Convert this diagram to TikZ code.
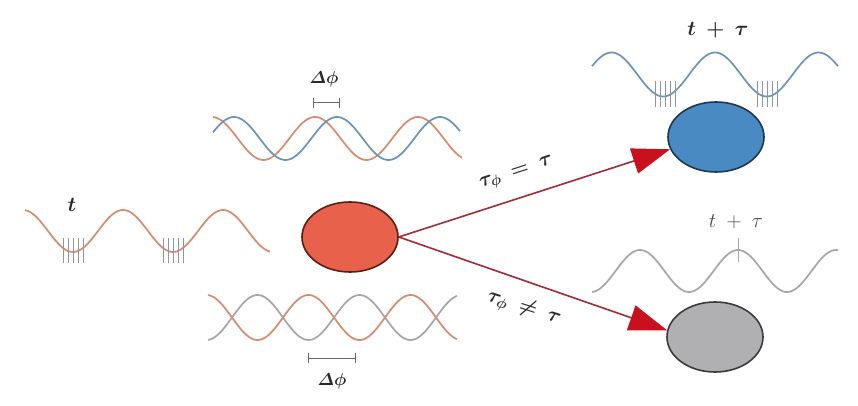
\documentclass[tikz,border=0pt]{standalone}
\usepackage{amsmath}
\usepackage{bm}
\usetikzlibrary{shapes.geometric,arrows.meta}
\definecolor{waveor}{HTML}{D88A6C}
\definecolor{wavebl}{HTML}{6A93B8}
\definecolor{wavegr}{HTML}{A6A6A6}
\definecolor{tickc}{HTML}{8E94A6}
\definecolor{redfill}{HTML}{E8624B}
\definecolor{redline}{HTML}{5A1E14}
\definecolor{bluefill}{HTML}{4A8AC2}
\definecolor{blueline}{HTML}{1F3550}
\definecolor{grayfill}{HTML}{B0B0B2}
\definecolor{grayline}{HTML}{3A3A3A}
\definecolor{arrline}{HTML}{A02C38}
\definecolor{arrhead}{HTML}{C8101E}
\definecolor{txt}{HTML}{2A2A2A}
\tikzset{
  wave/.style={line width=1.7pt, smooth},
  spikes/.style={tickc, line width=0.8pt},
  brk/.style={line width=1pt, color=gray!80!black},
  blob/.style={ellipse, minimum width=96pt, minimum height=70pt, line width=1.6pt, inner sep=0pt},
  arr/.style={line width=1.6pt, color=arrline, -{Triangle[length=38pt,width=26pt,fill=arrhead,color=arrhead]}},
  lbl/.style={text=txt, inner sep=0pt}
}
\begin{document}
\begin{tikzpicture}[x=1pt,y=-1pt]
\useasboundingbox (0,0) rectangle (858,406);
\fill[white] (0,0) rectangle (858,406);
% left wave
\draw[wave, waveor] plot[domain=25:270, samples=120] (\x, {231 - 21*cos(3.6*(\x-123))});
\foreach \c in {73,173}{
  \foreach \d in {-10,-5,0,5,10}{
    \draw[spikes] (\c+\d,238) -- (\c+\d,263);
  }
}
\node[lbl, font=\fontsize{20}{24}\selectfont] (tl) at (72,205) {$\bm{t}$};
% top pair
\draw[wave, waveor] plot[domain=213:462, samples=120] (\x, {138.5 - 21.5*cos(3.4951*(\x-315))});
\draw[wave, wavebl] plot[domain=213:460, samples=120] (\x, {138.5 - 21.5*cos(3.4951*(\x-337))});
\draw[brk] (313,103) -- (339,103);
\draw[brk] (313,98) -- (313,108);
\draw[brk] (339,98) -- (339,108);
\node[lbl, font=\fontsize{18}{22}\selectfont] (dphi1) at (324,79) {$\bm{\varDelta\phi}$};
% bottom pair
\draw[wave, wavegr] plot[domain=208:457, samples=120] (\x, {317.5 + 22.5*cos(3.5294*(\x-206.5))});
\draw[wave, waveor] plot[domain=208:457, samples=120] (\x, {317.5 - 22.5*cos(3.5294*(\x-206.5))});
\draw[brk] (308,358) -- (355,358);
\draw[brk] (308,353) -- (308,363);
\draw[brk] (355,353) -- (355,363);
\node[lbl, font=\fontsize{18}{22}\selectfont] (dphi2) at (332,381) {$\bm{\varDelta\phi}$};
% top right wave
\draw[wave, wavebl] plot[domain=592:838, samples=120] (\x, {74.5 - 22*cos(3.4783*(\x-715))});
\foreach \c in {665,767}{
  \foreach \d in {-10,-5,0,5,10}{
    \draw[spikes] (\c+\d,81) -- (\c+\d,107);
  }
}
\node[lbl, font=\fontsize{22}{26}\selectfont] (ttop) at (718,30) {$\bm{t\;+\;\tau}$};
% gray right wave
\draw[wave, wavegr] plot[domain=592:838, samples=120] (\x, {271 - 21*cos(3.6735*(\x-738))});
\draw[line width=1pt, wavegr] (738,238) -- (738,262);
\node[lbl, text=txt!85, font=\fontsize{20}{24}\selectfont] (tbot) at (736,222) {$t\;+\;\tau$};
% blobs
\node[blob, fill=redfill, draw=redline] (red) at (350,237) {};
\node[blob, fill=bluefill, draw=blueline] (blue) at (716,137) {};
\node[blob, fill=grayfill, draw=grayline] (gray) at (715,337) {};
% arrows
\draw[arr] (red.east) -- (blue.195);
\draw[arr] (red.east) -- (gray.172);
\node[lbl, rotate=18, font=\fontsize{22}{26}\selectfont] (eq) at (517,174) {$\bm{\tau_\phi \;=\; \tau}$};
\node[lbl, rotate=-18, font=\fontsize{22}{26}\selectfont] (neq) at (524,308) {$\bm{\tau_\phi \;\neq\; \tau}$};
\end{tikzpicture}
\end{document}
